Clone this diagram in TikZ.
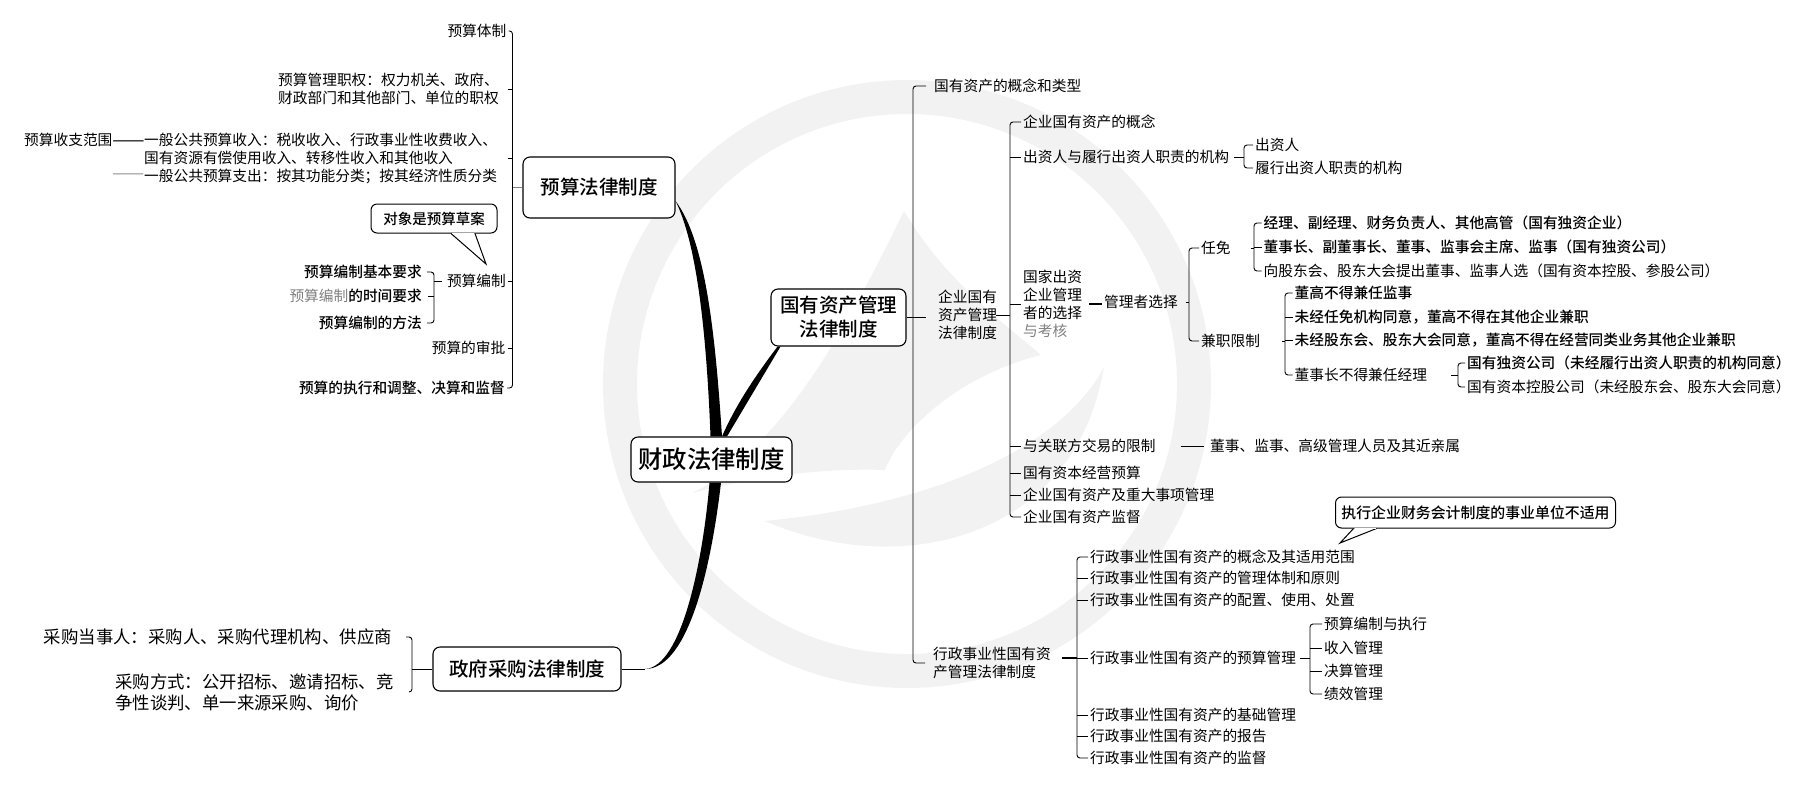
\documentclass[tikz,border=0pt]{standalone}
\usepackage{fontspec}
\setmainfont{Noto Sans CJK SC}[BoldFont={Noto Sans CJK SC Medium}]
\definecolor{logogray}{gray}{0.95}
\tikzset{
  leaf/.style={anchor=west,inner sep=2pt,align=left,font=\fontsize{14.7}{18}\selectfont},
  leafr/.style={leaf,anchor=east},
  dark/.style={font=\fontsize{14.7}{18}\selectfont\bfseries},
  large/.style={font=\fontsize{17.4}{21}\selectfont},
  topic/.style={draw,line width=1.1pt,rounded corners=7pt,fill=white,align=center,inner sep=0pt,font=\fontsize{19.5}{24}\selectfont\bfseries},
  note/.style={draw,line width=1pt,rounded corners=6pt,fill=white,inner sep=0pt,font=\fontsize{14.5}{18}\selectfont\bfseries},
  stem/.style={line width=0.9pt,rounded corners=3pt},
  twig/.style={line width=0.9pt},
  branch/.style={fill=black}
}
\begin{document}
\begin{tikzpicture}[x=1pt,y=-1pt]
\useasboundingbox (0,0) rectangle (1798,788);
% watermark
\draw[logogray,line width=34pt] (907,384) circle (287pt);
\fill[logogray] (904,211) .. controls (860,300) and (790,445) .. (692,493) .. controls (760,475) and (830,468) .. (885,470) .. controls (900,430) and (960,375) .. (1041,355) .. controls (1000,320) and (945,280) .. (904,211) -- cycle;
\fill[logogray] (765,521) .. controls (900,580) and (1075,540) .. (1104,367) .. controls (1060,450) and (930,505) .. (765,521) -- cycle;
% centre and main topics
\node[topic,minimum width=161pt,minimum height=45pt,font=\fontsize{24.4}{28}\selectfont\bfseries] (root) at (711.5,459.5) {财政法律制度};
\node[topic,minimum width=152pt,minimum height=61pt] (budget) at (599,187.5) {预算法律制度};
\node[topic,minimum width=135pt,minimum height=57pt] (assets) at (838.5,317.5) {国有资产管理\\法律制度};
\node[topic,minimum width=188pt,minimum height=44pt] (procure) at (527,669) {政府采购法律制度};
\coordinate (procurejoin) at (645,669);
\fill[branch] ([yshift=-13.5pt]budget.east) .. controls (695,240) and (706,320) .. ([xshift=-1pt]root.north) -- ([xshift=10.5pt]root.north) .. controls (715,330) and (705,240) .. ([yshift=-13.5pt]budget.east) -- cycle;
\fill[branch] ([xshift=10.5pt]root.north) .. controls (738,400) and (760,370) .. ([xshift=-61pt]assets.south) -- ([xshift=-58pt]assets.south) -- ([xshift=15.5pt]root.north) -- cycle;
\fill[branch] ([xshift=-2pt]root.south) .. controls (703,560) and (682,667) .. (procurejoin) .. controls (690,669) and (712,560) .. ([xshift=9.5pt]root.south) -- cycle;
\draw[twig] (procure.east) -- (procurejoin);
% budget law
\coordinate (spbudget) at (512.5,188);
\node[leafr] (bsystem) at (508.5,31) {预算体制};
\node[leaf] (bpower) at (276,89) {预算管理职权：权力机关、政府、\\财政部门和其他部门、单位的职权};
\node[leaf] (bscope) at (22,140) {预算收支范围\scalebox{1.3}[1]{\bfseries ——}};
\node[leaf] (bitems) at (142,158) {一般公共预算收入：税收收入、行政事业性收费收入、\\国有资源有偿使用收入、转移性收入和其他收入\\一般公共预算支出：按其功能分类；按其经济性质分类};
\node[leaf,text=gray] (bdash) at (110,176) {\scalebox{1.3}[1]{——}};
\node[leafr] (bprep) at (508,281) {预算编制};
\node[leafr] (bexam) at (507.5,348) {预算的审批};
\node[leafr,dark] (bexec) at (507,388) {预算的执行和调整、决算和监督};
\draw[stem] (bsystem.east) -- (bsystem.east -| spbudget) -- (bexec.east -| spbudget) -- (bexec.east);
\foreach \n in {bpower,bitems,bprep,bexam}
  \draw[twig] ([xshift=-5pt]\n.east -| spbudget) -- (\n.east -| spbudget);
\draw[twig,gray] (budget.west) -- (budget.west -| spbudget);
\coordinate (spprep) at (434,296);
\node[leafr,dark] (preqbase) at (424,272) {预算编制基本要求};
\node[leafr] (preqtime) at (424,296) {\textcolor{gray}{预算编制}\textbf{的时间要求}};
\node[leafr,dark] (preqway) at (424,323) {预算编制的方法};
\draw[stem,shorten <=3pt,shorten >=3pt] (preqbase.east) -- (preqbase.east -| spprep) -- (preqway.east -| spprep) -- (preqway.east);
\draw[twig,shorten <=4pt] (preqtime.east) -- (preqtime.east -| spprep);
\draw[twig,shorten >=3pt] (bprep.west -| spprep) -- (bprep.west);
\node[note,minimum width=126pt,minimum height=29pt] (prepnote) at (434,218.5) {对象是预算草案};
\coordinate (preptip) at (486,264);
\draw[line width=1pt,fill=white] ([xshift=17pt]prepnote.south) -- (preptip) -- ([xshift=41pt]prepnote.south);
\draw[white,line width=1.5pt] ([xshift=18pt]prepnote.south) -- ([xshift=40pt]prepnote.south);
% procurement law
\coordinate (spproc) at (412,669);
\node[leafr,large] (pparty) at (394,637) {采购当事人：采购人、采购代理机构、供应商};
\node[leaf,large] (pway) at (113,692) {采购方式：公开招标、邀请招标、竞\\争性谈判、单一来源采购、询价};
\draw[stem,shorten <=12pt,shorten >=13pt] (pparty.east) -- (pparty.east -| spproc) -- (pway.east -| spproc) -- (pway.east);
\draw[twig] (procure.west) -- (procure.west -| spproc);
% state assets law
\coordinate (spassets) at (913,317);
\node[leaf,inner xsep=8pt] (aconcept) at (926,86) {国有资产的概念和类型};
\node[leaf,minimum height=48pt] (acorp) at (936,315) {企业国有\\资产管理\\法律制度};
\node[leaf,inner xsep=8pt] (aadmin) at (925,663) {行政事业性国有资\\产管理法律制度};
\draw[stem] (aconcept.west) -- (aconcept.west -| spassets) -- (aadmin.west -| spassets) -- (aadmin.west);
\draw[twig,shorten >=10pt] (assets.east) -- (assets.east -| acorp.west);
% enterprise assets
\coordinate (spcorp) at (1010,317);
\node[leaf] (cconcept) at (1021,122) {企业国有资产的概念};
\node[leaf] (cinvest) at (1021,157) {出资人与履行出资人职责的机构};
\node[leaf] (cselect) at (1021,304) {国家出资\\企业管理\\者的选择\\\textcolor{gray}{与考核}};
\node[leaf] (crelated) at (1021,446) {与关联方交易的限制};
\node[leaf] (cbudget) at (1021,473) {国有资本经营预算};
\node[leaf] (cmatter) at (1021,495) {企业国有资产及重大事项管理};
\node[leaf] (csuper) at (1021,517) {企业国有资产监督};
\draw[stem] (cconcept.west) -- (cconcept.west -| spcorp) -- (csuper.west -| spcorp) -- (csuper.west);
\foreach \n in {cinvest,cselect,crelated,cbudget,cmatter}
  \draw[twig] (\n.west) -- (\n.west -| spcorp);
\draw[twig] ([xshift=-3pt]acorp.east) -- (acorp.east -| spcorp);
% investor
\coordinate (spinvest) at (1244,157);
\node[leaf] (iperson) at (1253,145) {出资人};
\node[leaf] (iorgan) at (1253,168) {履行出资人职责的机构};
\draw[stem] (iperson.west) -- (iperson.west -| spinvest) -- (iorgan.west -| spinvest) -- (iorgan.west);
\draw[twig,shorten <=3pt] (cinvest.east) -- (cinvest.east -| spinvest);
% managers
\node[leaf] (mchoice) at (1102,302) {管理者选择};
\draw[twig,line width=1.3pt,shorten <=5pt] (cselect.east) -- (cselect.east -| mchoice.west);
\coordinate (spchoice) at (1189,302);
\node[leaf] (mappoint) at (1199,248) {任免};
\node[leaf] (mlimit) at (1199,341) {兼职限制};
\draw[stem] (mappoint.west) -- (mappoint.west -| spchoice) -- (mlimit.west -| spchoice) -- (mlimit.west);
\draw[twig,shorten <=6pt] (mchoice.east) -- (mchoice.east -| spchoice);
\coordinate (spappoint) at (1254,247);
\node[leaf,dark] (aa) at (1261.5,223) {经理、副经理、财务负责人、其他高管（国有独资企业）};
\node[leaf,dark] (ab) at (1261.5,247) {董事长、副董事长、董事、监事会主席、监事（国有独资公司）};
\node[leaf] (ac) at (1261.5,271) {向股东会、股东大会提出董事、监事人选（国有资本控股、参股公司）};
\draw[stem] (aa.west) -- (aa.west -| spappoint) -- (ac.west -| spappoint) -- (ac.west);
\draw[twig,shorten <=18pt] (mappoint.east) -- (mappoint.east -| spappoint);
\draw[twig] (spappoint) -- (ab.west);
\coordinate (splimit) at (1285,340);
\node[leaf,dark] (la) at (1292.5,293) {董高不得兼任监事};
\node[leaf,dark] (lb) at (1292.5,317) {未经任免机构同意，董高不得在其他企业兼职};
\node[leaf,dark] (lc) at (1292.5,340) {未经股东会、股东大会同意，董高不得在经营同类业务其他企业兼职};
\node[leaf] (ld) at (1292.5,375) {董事长不得兼任经理};
\draw[stem] (la.west) -- (la.west -| splimit) -- (ld.west -| splimit) -- (ld.west);
\draw[twig,shorten <=20pt] (mlimit.east) -- (mlimit.east -| splimit);
\foreach \n in {lb,lc}
  \draw[twig] (\n.west) -- (\n.west -| splimit);
\coordinate (spchair) at (1458,375);
\node[leaf,dark] (da) at (1465,363) {国有独资公司（未经履行出资人职责的机构同意）};
\node[leaf] (db) at (1465,387) {国有资本控股公司（未经股东会、股东大会同意）};
\draw[stem] (da.west) -- (da.west -| spchair) -- (db.west -| spchair) -- (db.west);
\draw[twig,shorten <=22pt] (ld.east) -- (ld.east -| spchair);
\node[leaf] (rperson) at (1208,446) {董事、监事、高级管理人员及其近亲属};
\draw[twig,shorten <=23pt,shorten >=4pt] (crelated.east) -- (rperson.west |- crelated.east);
% administrative assets
\coordinate (spadmin) at (1077,658);
\node[leaf] (ea) at (1088,557) {行政事业性国有资产的概念及其适用范围};
\node[leaf] (eb) at (1088,578) {行政事业性国有资产的管理体制和原则};
\node[leaf] (ec) at (1088,600) {行政事业性国有资产的配置、使用、处置};
\node[leaf] (ed) at (1088,658) {行政事业性国有资产的预算管理};
\node[leaf] (ee) at (1088,715) {行政事业性国有资产的基础管理};
\node[leaf] (ef) at (1088,736) {行政事业性国有资产的报告};
\node[leaf] (eg) at (1088,758) {行政事业性国有资产的监督};
\draw[stem] (ea.west) -- (ea.west -| spadmin) -- (eg.west -| spadmin) -- (eg.west);
\foreach \n in {eb,ec,ee,ef}
  \draw[twig] (\n.west) -- (\n.west -| spadmin);
\draw[twig] (spadmin) -- (ed.west);
\draw[twig,line width=1.3pt,shorten <=3pt] (aadmin.east |- spadmin) -- (spadmin);
\coordinate (sped) at (1310,658);
\node[leaf] (fa) at (1322,624) {预算编制与执行};
\node[leaf] (fb) at (1322,648) {收入管理};
\node[leaf] (fc) at (1322,671) {决算管理};
\node[leaf] (fd) at (1322,694) {绩效管理};
\draw[stem] (fa.west) -- (fa.west -| sped) -- (fd.west -| sped) -- (fd.west);
\foreach \n in {fb,fc}
  \draw[twig] (\n.west) -- (\n.west -| sped);
\draw[twig,shorten <=2pt] (ed.east) -- (sped);
\node[note,minimum width=280pt,minimum height=31pt,font=\fontsize{14.9}{18}\selectfont\bfseries] (scopenote) at (1475.5,512.5) {执行企业财务会计制度的事业单位不适用};
\coordinate (scopetip) at (1340,543);
\draw[line width=1pt,fill=white] ([xshift=-122pt]scopenote.south) -- (scopetip) -- ([xshift=-99pt]scopenote.south);
\draw[white,line width=1.5pt] ([xshift=-121pt]scopenote.south) -- ([xshift=-100pt]scopenote.south);
\end{tikzpicture}
\end{document}
